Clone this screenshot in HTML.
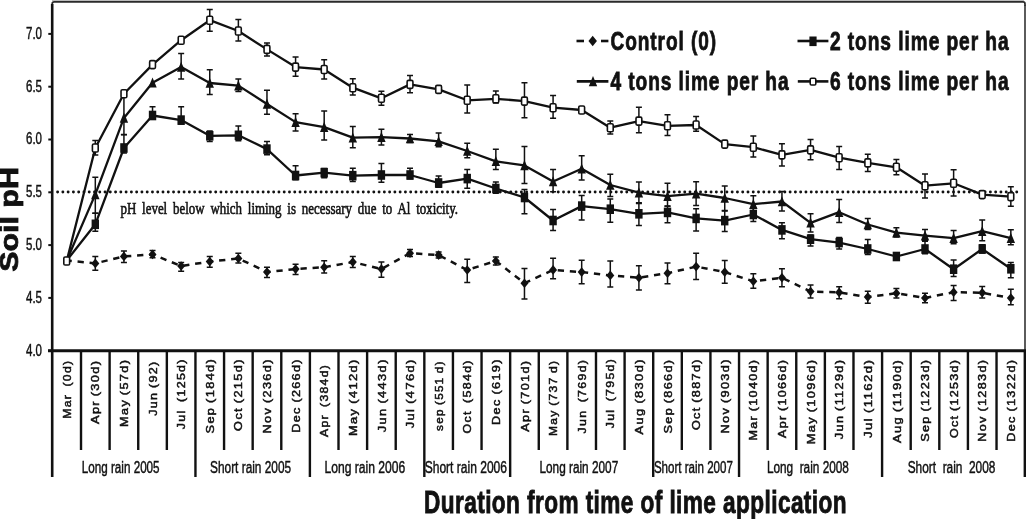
<!DOCTYPE html><html><head><meta charset="utf-8"><title>Soil pH</title><style>html,body{margin:0;padding:0;background:#fff;}svg{display:block;}text{font-family:"Liberation Sans",Arial,sans-serif;fill:#111;}.s4{stroke:#111;stroke-width:0.45px}.s5{stroke:#111;stroke-width:0.5px}.s6{stroke:#111;stroke-width:0.6px}.s8{stroke:#111;stroke-width:0.8px}.s7{stroke:#111;stroke-width:0.7px}.s9{stroke:#111;stroke-width:0.9px}</style></head><body>
<svg width="1027" height="519" viewBox="0 0 1027 519">
<rect width="1027" height="519" fill="#fff"/>
<line x1="52" y1="0.5" x2="1024" y2="0.5" stroke="#bbb" stroke-width="1"/>
<path d="M52.2 5V3.9Q52.2 1.9 54.2 1.9H1023Q1025 1.9 1025 3.9V6" fill="none" stroke="#2a2a2a" stroke-width="1.7"/>
<line x1="1025" y1="5" x2="1025" y2="350" stroke="#333" stroke-width="1.6"/>
<line x1="1024.8" y1="350" x2="1024.8" y2="477" stroke="#111" stroke-width="2.4"/>
<line x1="52.2" y1="4" x2="52.2" y2="477" stroke="#111" stroke-width="2.6"/>
<line x1="48" y1="350.7" x2="1026" y2="350.7" stroke="#111" stroke-width="3"/>
<line x1="48.3" y1="33.9" x2="52" y2="33.9" stroke="#111" stroke-width="2"/>
<line x1="48.3" y1="86.7" x2="52" y2="86.7" stroke="#111" stroke-width="2"/>
<line x1="48.3" y1="139.5" x2="52" y2="139.5" stroke="#111" stroke-width="2"/>
<line x1="48.3" y1="192.3" x2="52" y2="192.3" stroke="#111" stroke-width="2"/>
<line x1="48.3" y1="245.1" x2="52" y2="245.1" stroke="#111" stroke-width="2"/>
<line x1="48.3" y1="297.9" x2="52" y2="297.9" stroke="#111" stroke-width="2"/>
<line x1="48.3" y1="350.7" x2="52" y2="350.7" stroke="#111" stroke-width="2"/>
<text x="42" y="38.8" font-size="16" text-anchor="end" textLength="16" lengthAdjust="spacingAndGlyphs" class="s4">7.0</text>
<text x="42" y="91.6" font-size="16" text-anchor="end" textLength="16" lengthAdjust="spacingAndGlyphs" class="s4">6.5</text>
<text x="42" y="144.4" font-size="16" text-anchor="end" textLength="16" lengthAdjust="spacingAndGlyphs" class="s4">6.0</text>
<text x="42" y="197.2" font-size="16" text-anchor="end" textLength="16" lengthAdjust="spacingAndGlyphs" class="s4">5.5</text>
<text x="42" y="250" font-size="16" text-anchor="end" textLength="16" lengthAdjust="spacingAndGlyphs" class="s4">5.0</text>
<text x="42" y="302.8" font-size="16" text-anchor="end" textLength="16" lengthAdjust="spacingAndGlyphs" class="s4">4.5</text>
<text x="42" y="355.6" font-size="16" text-anchor="end" textLength="16" lengthAdjust="spacingAndGlyphs" class="s4">4.0</text>
<line x1="81.01" y1="350" x2="81.01" y2="450" stroke="#111" stroke-width="2.4"/>
<line x1="109.62" y1="350" x2="109.62" y2="450" stroke="#111" stroke-width="2.4"/>
<line x1="138.23" y1="350" x2="138.23" y2="450" stroke="#111" stroke-width="2.4"/>
<line x1="166.84" y1="350" x2="166.84" y2="450" stroke="#111" stroke-width="2.4"/>
<line x1="195.45" y1="350" x2="195.45" y2="477" stroke="#111" stroke-width="2.4"/>
<line x1="224.06" y1="350" x2="224.06" y2="450" stroke="#111" stroke-width="2.4"/>
<line x1="252.67" y1="350" x2="252.67" y2="450" stroke="#111" stroke-width="2.4"/>
<line x1="281.28" y1="350" x2="281.28" y2="450" stroke="#111" stroke-width="2.4"/>
<line x1="309.89" y1="350" x2="309.89" y2="477" stroke="#111" stroke-width="2.4"/>
<line x1="338.5" y1="350" x2="338.5" y2="450" stroke="#111" stroke-width="2.4"/>
<line x1="367.11" y1="350" x2="367.11" y2="450" stroke="#111" stroke-width="2.4"/>
<line x1="395.72" y1="350" x2="395.72" y2="450" stroke="#111" stroke-width="2.4"/>
<line x1="424.33" y1="350" x2="424.33" y2="477" stroke="#111" stroke-width="2.4"/>
<line x1="452.94" y1="350" x2="452.94" y2="450" stroke="#111" stroke-width="2.4"/>
<line x1="481.55" y1="350" x2="481.55" y2="450" stroke="#111" stroke-width="2.4"/>
<line x1="510.16" y1="350" x2="510.16" y2="477" stroke="#111" stroke-width="2.4"/>
<line x1="538.77" y1="350" x2="538.77" y2="450" stroke="#111" stroke-width="2.4"/>
<line x1="567.38" y1="350" x2="567.38" y2="450" stroke="#111" stroke-width="2.4"/>
<line x1="595.99" y1="350" x2="595.99" y2="450" stroke="#111" stroke-width="2.4"/>
<line x1="624.6" y1="350" x2="624.6" y2="450" stroke="#111" stroke-width="2.4"/>
<line x1="653.21" y1="350" x2="653.21" y2="477" stroke="#111" stroke-width="2.4"/>
<line x1="681.82" y1="350" x2="681.82" y2="450" stroke="#111" stroke-width="2.4"/>
<line x1="710.43" y1="350" x2="710.43" y2="450" stroke="#111" stroke-width="2.4"/>
<line x1="739.04" y1="350" x2="739.04" y2="477" stroke="#111" stroke-width="2.4"/>
<line x1="767.65" y1="350" x2="767.65" y2="450" stroke="#111" stroke-width="2.4"/>
<line x1="796.26" y1="350" x2="796.26" y2="450" stroke="#111" stroke-width="2.4"/>
<line x1="824.87" y1="350" x2="824.87" y2="450" stroke="#111" stroke-width="2.4"/>
<line x1="853.48" y1="350" x2="853.48" y2="450" stroke="#111" stroke-width="2.4"/>
<line x1="882.09" y1="350" x2="882.09" y2="477" stroke="#111" stroke-width="2.4"/>
<line x1="910.7" y1="350" x2="910.7" y2="450" stroke="#111" stroke-width="2.4"/>
<line x1="939.31" y1="350" x2="939.31" y2="450" stroke="#111" stroke-width="2.4"/>
<line x1="967.92" y1="350" x2="967.92" y2="450" stroke="#111" stroke-width="2.4"/>
<line x1="996.53" y1="350" x2="996.53" y2="450" stroke="#111" stroke-width="2.4"/>
<text transform="translate(70.8,418.8) rotate(-90)" font-size="11.4" letter-spacing="1.2" word-spacing="-1" class="s5" textLength="59.2" lengthAdjust="spacingAndGlyphs">Mar&#160;&#160;(0d)</text>
<text transform="translate(99.41,424) rotate(-90)" font-size="11.4" letter-spacing="1.2" word-spacing="-1" class="s5" textLength="64.4" lengthAdjust="spacingAndGlyphs">Apr (30d)</text>
<text transform="translate(128.03,427) rotate(-90)" font-size="11.4" letter-spacing="1.2" word-spacing="-1" class="s5" textLength="68.3" lengthAdjust="spacingAndGlyphs">May (57d)</text>
<text transform="translate(156.63,415.8) rotate(-90)" font-size="11.4" letter-spacing="1.2" word-spacing="-1" class="s5" textLength="55.4" lengthAdjust="spacingAndGlyphs">Jun (92)</text>
<text transform="translate(185.25,429.2) rotate(-90)" font-size="11.4" letter-spacing="1.2" word-spacing="-1" class="s5" textLength="71" lengthAdjust="spacingAndGlyphs">Jul&#160;&#160;(125d)</text>
<text transform="translate(213.85,433.5) rotate(-90)" font-size="11.4" letter-spacing="1.2" word-spacing="-1" class="s5" textLength="75.7" lengthAdjust="spacingAndGlyphs">Sep (184d)</text>
<text transform="translate(242.47,430.9) rotate(-90)" font-size="11.4" letter-spacing="1.2" word-spacing="-1" class="s5" textLength="72.7" lengthAdjust="spacingAndGlyphs">Oct (215d)</text>
<text transform="translate(271.07,433.5) rotate(-90)" font-size="11.4" letter-spacing="1.2" word-spacing="-1" class="s5" textLength="75.3" lengthAdjust="spacingAndGlyphs">Nov (236d)</text>
<text transform="translate(299.69,432.7) rotate(-90)" font-size="11.4" letter-spacing="1.2" word-spacing="-1" class="s5" textLength="74.5" lengthAdjust="spacingAndGlyphs">Dec (266d)</text>
<text transform="translate(328.3,437) rotate(-90)" font-size="11.4" letter-spacing="1.2" word-spacing="-1" class="s5" textLength="73.1" lengthAdjust="spacingAndGlyphs">Apr&#160;&#160;(384d)</text>
<text transform="translate(356.9,436.1) rotate(-90)" font-size="11.4" letter-spacing="1.2" word-spacing="-1" class="s5" textLength="77.9" lengthAdjust="spacingAndGlyphs">May (412d)</text>
<text transform="translate(385.51,432.2) rotate(-90)" font-size="11.4" letter-spacing="1.2" word-spacing="-1" class="s5" textLength="74" lengthAdjust="spacingAndGlyphs">Jun (443d)</text>
<text transform="translate(414.12,428.3) rotate(-90)" font-size="11.4" letter-spacing="1.2" word-spacing="-1" class="s5" textLength="70.1" lengthAdjust="spacingAndGlyphs">Jul (476d)</text>
<text transform="translate(442.74,430.9) rotate(-90)" font-size="11.4" letter-spacing="1.2" word-spacing="-1" class="s5" textLength="70.5" lengthAdjust="spacingAndGlyphs">sep (551 d)</text>
<text transform="translate(471.34,433.5) rotate(-90)" font-size="11.4" letter-spacing="1.2" word-spacing="-1" class="s5" textLength="74.3" lengthAdjust="spacingAndGlyphs">Oct&#160;&#160;(584d)</text>
<text transform="translate(499.95,424.9) rotate(-90)" font-size="11.4" letter-spacing="1.2" word-spacing="-1" class="s5" textLength="66.7" lengthAdjust="spacingAndGlyphs">Dec (619)</text>
<text transform="translate(528.57,431.8) rotate(-90)" font-size="11.4" letter-spacing="1.2" word-spacing="-1" class="s5" textLength="72.2" lengthAdjust="spacingAndGlyphs">Apr (701d)</text>
<text transform="translate(557.18,436.1) rotate(-90)" font-size="11.4" letter-spacing="1.2" word-spacing="-1" class="s5" textLength="76.5" lengthAdjust="spacingAndGlyphs">May (737 d)</text>
<text transform="translate(585.78,433.5) rotate(-90)" font-size="11.4" letter-spacing="1.2" word-spacing="-1" class="s5" textLength="74.8" lengthAdjust="spacingAndGlyphs">Jun&#160;&#160;(769d)</text>
<text transform="translate(614.39,428.3) rotate(-90)" font-size="11.4" letter-spacing="1.2" word-spacing="-1" class="s5" textLength="70.5" lengthAdjust="spacingAndGlyphs">Jul&#160;&#160;(795d)</text>
<text transform="translate(643,434.4) rotate(-90)" font-size="11.4" letter-spacing="1.2" word-spacing="-1" class="s5" textLength="76.2" lengthAdjust="spacingAndGlyphs">Aug (830d)</text>
<text transform="translate(671.62,433.5) rotate(-90)" font-size="11.4" letter-spacing="1.2" word-spacing="-1" class="s5" textLength="74.8" lengthAdjust="spacingAndGlyphs">Sep (866d)</text>
<text transform="translate(700.23,430.1) rotate(-90)" font-size="11.4" letter-spacing="1.2" word-spacing="-1" class="s5" textLength="71.9" lengthAdjust="spacingAndGlyphs">Oct (887d)</text>
<text transform="translate(728.84,433.5) rotate(-90)" font-size="11.4" letter-spacing="1.2" word-spacing="-1" class="s5" textLength="75.3" lengthAdjust="spacingAndGlyphs">Nov (903d)</text>
<text transform="translate(757.44,440.5) rotate(-90)" font-size="11.4" letter-spacing="1.2" word-spacing="-1" class="s5" textLength="81.8" lengthAdjust="spacingAndGlyphs">Mar (1040d)</text>
<text transform="translate(786.05,438) rotate(-90)" font-size="11.4" letter-spacing="1.2" word-spacing="-1" class="s5" textLength="79.3" lengthAdjust="spacingAndGlyphs">Apr (1066d)</text>
<text transform="translate(814.66,444.3) rotate(-90)" font-size="11.4" letter-spacing="1.2" word-spacing="-1" class="s5" textLength="85.6" lengthAdjust="spacingAndGlyphs">May (1096d)</text>
<text transform="translate(843.27,439.2) rotate(-90)" font-size="11.4" letter-spacing="1.2" word-spacing="-1" class="s5" textLength="80.5" lengthAdjust="spacingAndGlyphs">Jun (1129d)</text>
<text transform="translate(871.88,438) rotate(-90)" font-size="11.4" letter-spacing="1.2" word-spacing="-1" class="s5" textLength="79.3" lengthAdjust="spacingAndGlyphs">Jul (1162d)</text>
<text transform="translate(900.5,443) rotate(-90)" font-size="11.4" letter-spacing="1.2" word-spacing="-1" class="s5" textLength="84.3" lengthAdjust="spacingAndGlyphs">Aug (1190d)</text>
<text transform="translate(929.11,441.8) rotate(-90)" font-size="11.4" letter-spacing="1.2" word-spacing="-1" class="s5" textLength="83.1" lengthAdjust="spacingAndGlyphs">Sep (1223d)</text>
<text transform="translate(957.72,438) rotate(-90)" font-size="11.4" letter-spacing="1.2" word-spacing="-1" class="s5" textLength="79.3" lengthAdjust="spacingAndGlyphs">Oct (1253d)</text>
<text transform="translate(986.32,441.8) rotate(-90)" font-size="11.4" letter-spacing="1.2" word-spacing="-1" class="s5" textLength="83.1" lengthAdjust="spacingAndGlyphs">Nov (1283d)</text>
<text transform="translate(1014.93,441.8) rotate(-90)" font-size="11.4" letter-spacing="1.2" word-spacing="-1" class="s5" textLength="83.1" lengthAdjust="spacingAndGlyphs">Dec (1322d)</text>
<text x="81.8" y="472.8" font-size="16" class="s4" textLength="77.8" lengthAdjust="spacingAndGlyphs" xml:space="preserve">Long rain 2005</text>
<text x="210.1" y="472.8" font-size="16" class="s4" textLength="81" lengthAdjust="spacingAndGlyphs" xml:space="preserve">Short rain 2005</text>
<text x="324.5" y="472.8" font-size="16" class="s4" textLength="80.7" lengthAdjust="spacingAndGlyphs" xml:space="preserve">Long rain 2006</text>
<text x="424.7" y="472.8" font-size="16" class="s4" textLength="82.3" lengthAdjust="spacingAndGlyphs" xml:space="preserve">Short rain 2006</text>
<text x="539.5" y="472.8" font-size="16" class="s4" textLength="78.7" lengthAdjust="spacingAndGlyphs" xml:space="preserve">Long rain 2007</text>
<text x="653.9" y="472.8" font-size="16" class="s4" textLength="79" lengthAdjust="spacingAndGlyphs" xml:space="preserve">Short rain 2007</text>
<text x="766.9" y="472.8" font-size="16" class="s4" textLength="82" lengthAdjust="spacingAndGlyphs" xml:space="preserve">Long  rain 2008</text>
<text x="907.7" y="472.8" font-size="16" class="s4" textLength="87.7" lengthAdjust="spacingAndGlyphs" xml:space="preserve">Short  rain  2008</text>
<text x="424" y="513.2" font-size="31" font-weight="bold" class="s9" letter-spacing="0.6" textLength="423" lengthAdjust="spacingAndGlyphs">Duration from time of lime application</text>
<text transform="translate(18.3,271.8) rotate(-90)" font-size="25.5" font-weight="bold" class="s8" textLength="104.7" lengthAdjust="spacingAndGlyphs">Soil pH</text>
<line x1="57.6" y1="192" x2="1020" y2="192" stroke="#111" stroke-width="2.9" stroke-linecap="round" stroke-dasharray="0.01 5.26"/>
<text x="120.5" y="214.3" font-size="17.5" word-spacing="3.5" class="s6" style="font-family:'Liberation Serif',serif" textLength="337.5" lengthAdjust="spacingAndGlyphs">pH level below which liming is necessary due to Al toxicity.</text>
<path d="M95.31 256.4V270.3M92.31 256.4H98.31M92.31 270.3H98.31M123.93 250.9V262.5M120.93 250.9H126.93M120.93 262.5H126.93M152.53 250.4V257.8M149.53 250.4H155.53M149.53 257.8H155.53M181.15 262.5V271.2M178.15 262.5H184.15M178.15 271.2H184.15M209.75 256.4V267.2M206.75 256.4H212.75M206.75 267.2H212.75M238.37 253.3V263M235.37 253.3H241.37M235.37 263H241.37M266.97 267.2V277.6M263.97 267.2H269.97M263.97 277.6H269.97M295.58 264.2V274.6M292.58 264.2H298.58M292.58 274.6H298.58M324.19 260.8V272.9M321.19 260.8H327.19M321.19 272.9H327.19M352.8 256.5V267.6M349.8 256.5H355.8M349.8 267.6H355.8M381.41 262.1V277.3M378.41 262.1H384.41M378.41 277.3H384.41M410.02 249.6V256.5M407.02 249.6H413.02M407.02 256.5H413.02M438.63 252V258M435.63 252H441.63M435.63 258H441.63M467.24 259.3V282.4M464.24 259.3H470.24M464.24 282.4H470.24M495.85 257V265M492.85 257H498.85M492.85 265H498.85M524.47 268.5V299M521.47 268.5H527.47M521.47 299H527.47M553.08 258.2V278.8M550.08 258.2H556.08M550.08 278.8H556.08M581.68 260.2V283.8M578.68 260.2H584.68M578.68 283.8H584.68M610.29 261V287.1M607.29 261H613.29M607.29 287.1H613.29M638.9 265.7V289.9M635.9 265.7H641.9M635.9 289.9H641.9M667.51 263V283.8M664.51 263H670.51M664.51 283.8H670.51M696.12 253.2V279.6M693.12 253.2H699.12M693.12 279.6H699.12M724.74 260.6V283.2M721.74 260.6H727.74M721.74 283.2H727.74M753.34 273.8V288.2M750.34 273.8H756.34M750.34 288.2H756.34M781.95 268.8V286.8M778.95 268.8H784.95M778.95 286.8H784.95M810.56 284.9V297.9M807.56 284.9H813.56M807.56 297.9H813.56M839.17 286.8V298.8M836.17 286.8H842.17M836.17 298.8H842.17M867.78 291.3V303.2M864.78 291.3H870.78M864.78 303.2H870.78M896.39 288.4V298M893.39 288.4H899.39M893.39 298H899.39M925 293.2V302.8M922 293.2H928M922 302.8H928M953.62 285.5V300.5M950.62 285.5H956.62M950.62 300.5H956.62M982.22 286.4V298M979.22 286.4H985.22M979.22 298H985.22M1010.83 289.3V304.7M1007.83 289.3H1013.83M1007.83 304.7H1013.83" stroke="#111" stroke-width="1.5" fill="none"/>
<polyline points="66.7,260.5 95.31,263.4 123.93,256.4 152.53,254.4 181.15,266 209.75,261.6 238.37,258.5 266.97,272 295.58,269.1 324.19,267.2 352.8,262.1 381.41,269 410.02,253.2 438.63,255.1 467.24,270 495.85,261 524.47,283.2 553.08,269.9 581.68,272.1 610.29,275.4 638.9,277.7 667.51,273.2 696.12,266.6 724.74,272.1 753.34,281.3 781.95,277.7 810.56,291.5 839.17,292.4 867.78,297 896.39,293.2 925,298 953.62,292.2 982.22,292.8 1010.83,298" fill="none" stroke="#111" stroke-width="2.5" stroke-linejoin="round" stroke-dasharray="6.3 5.8" stroke-dashoffset="1.2"/>
<path d="M95.31 258.6L99.31 263.4L95.31 268.2L91.31 263.4Z" fill="#111"/>
<path d="M123.93 251.6L127.93 256.4L123.93 261.2L119.93 256.4Z" fill="#111"/>
<path d="M152.53 249.6L156.53 254.4L152.53 259.2L148.53 254.4Z" fill="#111"/>
<path d="M181.15 261.2L185.15 266L181.15 270.8L177.15 266Z" fill="#111"/>
<path d="M209.75 256.8L213.75 261.6L209.75 266.4L205.75 261.6Z" fill="#111"/>
<path d="M238.37 253.7L242.37 258.5L238.37 263.3L234.37 258.5Z" fill="#111"/>
<path d="M266.97 267.2L270.97 272L266.97 276.8L262.97 272Z" fill="#111"/>
<path d="M295.58 264.3L299.58 269.1L295.58 273.9L291.58 269.1Z" fill="#111"/>
<path d="M324.19 262.4L328.19 267.2L324.19 272L320.19 267.2Z" fill="#111"/>
<path d="M352.8 257.3L356.8 262.1L352.8 266.9L348.8 262.1Z" fill="#111"/>
<path d="M381.41 264.2L385.41 269L381.41 273.8L377.41 269Z" fill="#111"/>
<path d="M410.02 248.4L414.02 253.2L410.02 258L406.02 253.2Z" fill="#111"/>
<path d="M438.63 250.3L442.63 255.1L438.63 259.9L434.63 255.1Z" fill="#111"/>
<path d="M467.24 265.2L471.24 270L467.24 274.8L463.24 270Z" fill="#111"/>
<path d="M495.85 256.2L499.85 261L495.85 265.8L491.85 261Z" fill="#111"/>
<path d="M524.47 278.4L528.47 283.2L524.47 288L520.47 283.2Z" fill="#111"/>
<path d="M553.08 265.1L557.08 269.9L553.08 274.7L549.08 269.9Z" fill="#111"/>
<path d="M581.68 267.3L585.68 272.1L581.68 276.9L577.68 272.1Z" fill="#111"/>
<path d="M610.29 270.6L614.29 275.4L610.29 280.2L606.29 275.4Z" fill="#111"/>
<path d="M638.9 272.9L642.9 277.7L638.9 282.5L634.9 277.7Z" fill="#111"/>
<path d="M667.51 268.4L671.51 273.2L667.51 278L663.51 273.2Z" fill="#111"/>
<path d="M696.12 261.8L700.12 266.6L696.12 271.4L692.12 266.6Z" fill="#111"/>
<path d="M724.74 267.3L728.74 272.1L724.74 276.9L720.74 272.1Z" fill="#111"/>
<path d="M753.34 276.5L757.34 281.3L753.34 286.1L749.34 281.3Z" fill="#111"/>
<path d="M781.95 272.9L785.95 277.7L781.95 282.5L777.95 277.7Z" fill="#111"/>
<path d="M810.56 286.7L814.56 291.5L810.56 296.3L806.56 291.5Z" fill="#111"/>
<path d="M839.17 287.6L843.17 292.4L839.17 297.2L835.17 292.4Z" fill="#111"/>
<path d="M867.78 292.2L871.78 297L867.78 301.8L863.78 297Z" fill="#111"/>
<path d="M896.39 288.4L900.39 293.2L896.39 298L892.39 293.2Z" fill="#111"/>
<path d="M925 293.2L929 298L925 302.8L921 298Z" fill="#111"/>
<path d="M953.62 287.4L957.62 292.2L953.62 297L949.62 292.2Z" fill="#111"/>
<path d="M982.22 288L986.22 292.8L982.22 297.6L978.22 292.8Z" fill="#111"/>
<path d="M1010.83 293.2L1014.83 298L1010.83 302.8L1006.83 298Z" fill="#111"/>
<path d="M95.31 213.2V231.3M92.31 213.2H98.31M92.31 231.3H98.31M123.93 134.8V153M120.93 134.8H126.93M120.93 153H126.93M152.53 106.8V119M149.53 106.8H155.53M149.53 119H155.53M181.15 106.8V124M178.15 106.8H184.15M178.15 124H184.15M209.75 131.1V141.6M206.75 131.1H212.75M206.75 141.6H212.75M238.37 126.1V140.8M235.37 126.1H241.37M235.37 140.8H241.37M266.97 141.6V154.7M263.97 141.6H269.97M263.97 154.7H269.97M295.58 165.8V179.7M292.58 165.8H298.58M292.58 179.7H298.58M324.19 168.6V177.7M321.19 168.6H327.19M321.19 177.7H327.19M352.8 168.3V181.6M349.8 168.3H355.8M349.8 181.6H355.8M381.41 163.6V182.2M378.41 163.6H384.41M378.41 182.2H384.41M410.02 168.3V178.8M407.02 168.3H413.02M407.02 178.8H413.02M438.63 176V187.2M435.63 176H441.63M435.63 187.2H441.63M467.24 169.6V188.2M464.24 169.6H470.24M464.24 188.2H470.24M495.85 182.1V193.2M492.85 182.1H498.85M492.85 193.2H498.85M524.47 189.4V213.8M521.47 189.4H527.47M521.47 213.8H527.47M553.08 209.4V230.5M550.08 209.4H556.08M550.08 230.5H556.08M581.68 195.5V220M578.68 195.5H584.68M578.68 220H584.68M610.29 199.1V222.2M607.29 199.1H613.29M607.29 222.2H613.29M638.9 202.7V225.5M635.9 202.7H641.9M635.9 225.5H641.9M667.51 206V222.7M664.51 206H670.51M664.51 222.7H670.51M696.12 208.8V231M693.12 208.8H699.12M693.12 231H699.12M724.74 211V231.6M721.74 211H727.74M721.74 231.6H727.74M753.34 207.7V221.6M750.34 207.7H756.34M750.34 221.6H756.34M781.95 222.8V238.8M778.95 222.8H784.95M778.95 238.8H784.95M810.56 234.9V246M807.56 234.9H813.56M807.56 246H813.56M839.17 237.5V249M836.17 237.5H842.17M836.17 249H842.17M867.78 239.5V254.6M864.78 239.5H870.78M864.78 254.6H870.78M896.39 253V260M893.39 253H899.39M893.39 260H899.39M925 240.8V253.7M922 240.8H928M922 253.7H928M953.62 260V276.6M950.62 260H956.62M950.62 276.6H956.62M982.22 244.7V253M979.22 244.7H985.22M979.22 253H985.22M1010.83 262.4V277.8M1007.83 262.4H1013.83M1007.83 277.8H1013.83" stroke="#111" stroke-width="1.5" fill="none"/>
<polyline points="66.7,260.5 95.31,224.3 123.93,148 152.53,115.5 181.15,120.1 209.75,135.8 238.37,135.3 266.97,149.1 295.58,175.5 324.19,172.7 352.8,175.7 381.41,175 410.02,175 438.63,183 467.24,178.6 495.85,188.5 524.47,197.5 553.08,220.5 581.68,206.1 610.29,209.2 638.9,213.8 667.51,212.4 696.12,218.4 724.74,220.6 753.34,214.5 781.95,229.9 810.56,239.2 839.17,242.6 867.78,249 896.39,256.5 925,249 953.62,269.2 982.22,249 1010.83,268.8" fill="none" stroke="#111" stroke-width="2.3" stroke-linejoin="round"/>
<rect x="91.61" y="219.5" width="7.4" height="9.6" fill="#111"/>
<rect x="120.23" y="143.2" width="7.4" height="9.6" fill="#111"/>
<rect x="148.84" y="110.7" width="7.4" height="9.6" fill="#111"/>
<rect x="177.45" y="115.3" width="7.4" height="9.6" fill="#111"/>
<rect x="206.06" y="131" width="7.4" height="9.6" fill="#111"/>
<rect x="234.67" y="130.5" width="7.4" height="9.6" fill="#111"/>
<rect x="263.27" y="144.3" width="7.4" height="9.6" fill="#111"/>
<rect x="291.88" y="170.7" width="7.4" height="9.6" fill="#111"/>
<rect x="320.5" y="167.9" width="7.4" height="9.6" fill="#111"/>
<rect x="349.1" y="170.9" width="7.4" height="9.6" fill="#111"/>
<rect x="377.71" y="170.2" width="7.4" height="9.6" fill="#111"/>
<rect x="406.32" y="170.2" width="7.4" height="9.6" fill="#111"/>
<rect x="434.94" y="178.2" width="7.4" height="9.6" fill="#111"/>
<rect x="463.54" y="173.8" width="7.4" height="9.6" fill="#111"/>
<rect x="492.15" y="183.7" width="7.4" height="9.6" fill="#111"/>
<rect x="520.76" y="192.7" width="7.4" height="9.6" fill="#111"/>
<rect x="549.38" y="215.7" width="7.4" height="9.6" fill="#111"/>
<rect x="577.98" y="201.3" width="7.4" height="9.6" fill="#111"/>
<rect x="606.59" y="204.4" width="7.4" height="9.6" fill="#111"/>
<rect x="635.2" y="209" width="7.4" height="9.6" fill="#111"/>
<rect x="663.81" y="207.6" width="7.4" height="9.6" fill="#111"/>
<rect x="692.42" y="213.6" width="7.4" height="9.6" fill="#111"/>
<rect x="721.03" y="215.8" width="7.4" height="9.6" fill="#111"/>
<rect x="749.64" y="209.7" width="7.4" height="9.6" fill="#111"/>
<rect x="778.25" y="225.1" width="7.4" height="9.6" fill="#111"/>
<rect x="806.86" y="234.4" width="7.4" height="9.6" fill="#111"/>
<rect x="835.47" y="237.8" width="7.4" height="9.6" fill="#111"/>
<rect x="864.08" y="244.2" width="7.4" height="9.6" fill="#111"/>
<rect x="892.69" y="251.7" width="7.4" height="9.6" fill="#111"/>
<rect x="921.3" y="244.2" width="7.4" height="9.6" fill="#111"/>
<rect x="949.91" y="264.4" width="7.4" height="9.6" fill="#111"/>
<rect x="978.52" y="244.2" width="7.4" height="9.6" fill="#111"/>
<rect x="1007.13" y="264" width="7.4" height="9.6" fill="#111"/>
<path d="M95.31 177.2V213.2M92.31 177.2H98.31M92.31 213.2H98.31M123.93 96.2V134.6M120.93 96.2H126.93M120.93 134.6H126.93M181.15 53.5V79M178.15 53.5H184.15M178.15 79H184.15M209.75 69.8V94.4M206.75 69.8H212.75M206.75 94.4H212.75M238.37 79V91.6M235.37 79H241.37M235.37 91.6H241.37M266.97 90.2V114.3M263.97 90.2H269.97M263.97 114.3H269.97M295.58 113.8V131M292.58 113.8H298.58M292.58 131H298.58M324.19 111V140.1M321.19 111H327.19M321.19 140.1H327.19M352.8 126.6V147.7M349.8 126.6H355.8M349.8 147.7H355.8M381.41 129.3V144.9M378.41 129.3H384.41M378.41 144.9H384.41M410.02 134.5V142.5M407.02 134.5H413.02M407.02 142.5H413.02M438.63 133V146.8M435.63 133H441.63M435.63 146.8H441.63M467.24 143.2V157.7M464.24 143.2H470.24M464.24 157.7H470.24M495.85 149.3V169.6M492.85 149.3H498.85M492.85 169.6H498.85M524.47 146.6V183.5M521.47 146.6H527.47M521.47 183.5H527.47M553.08 169.6V191.8M550.08 169.6H556.08M550.08 191.8H556.08M581.68 155.7V179.9M578.68 155.7H584.68M578.68 179.9H584.68M610.29 174.3V196.5M607.29 174.3H613.29M607.29 196.5H613.29M638.9 182V203.5M635.9 182H641.9M635.9 203.5H641.9M667.51 183.2V206.2M664.51 183.2H670.51M664.51 206.2H670.51M696.12 181.7V205.5M693.12 181.7H699.12M693.12 205.5H699.12M724.74 186V210.4M721.74 186H727.74M721.74 210.4H727.74M753.34 195.7V212.4M750.34 195.7H756.34M750.34 212.4H756.34M781.95 191.6V211M778.95 191.6H784.95M778.95 211H784.95M810.56 213.8V232M807.56 213.8H813.56M807.56 232H813.56M839.17 199.6V222.6M836.17 199.6H842.17M836.17 222.6H842.17M867.78 218.5V229.4M864.78 218.5H870.78M864.78 229.4H870.78M896.39 227.7V237M893.39 227.7H899.39M893.39 237H899.39M925 229.6V241.2M922 229.6H928M922 241.2H928M953.62 230.5V243.8M950.62 230.5H956.62M950.62 243.8H956.62M982.22 220V240.8M979.22 220H985.22M979.22 240.8H985.22M1010.83 229.8V244.7M1007.83 229.8H1013.83M1007.83 244.7H1013.83" stroke="#111" stroke-width="1.5" fill="none"/>
<polyline points="66.7,260.5 95.31,194.4 123.93,117.9 152.53,82.7 181.15,67 209.75,83 238.37,85.6 266.97,104 295.58,122.1 324.19,127.1 352.8,137.7 381.41,137.1 410.02,138.5 438.63,141.3 467.24,151 495.85,161.3 524.47,165.4 553.08,181.5 581.68,168.8 610.29,185 638.9,192.6 667.51,196.2 696.12,193.7 724.74,198 753.34,204.2 781.95,201.5 810.56,222.8 839.17,212.2 867.78,224.5 896.39,232.6 925,235.6 953.62,238.1 982.22,231.2 1010.83,238.1" fill="none" stroke="#111" stroke-width="2.3" stroke-linejoin="round"/>
<path d="M95.31 189.1L99.52 199.2L91.11 199.2Z" fill="#111"/>
<path d="M123.93 112.6L128.12 122.7L119.73 122.7Z" fill="#111"/>
<path d="M152.53 77.4L156.73 87.5L148.34 87.5Z" fill="#111"/>
<path d="M181.15 61.7L185.34 71.8L176.95 71.8Z" fill="#111"/>
<path d="M209.75 77.7L213.95 87.8L205.56 87.8Z" fill="#111"/>
<path d="M238.37 80.3L242.56 90.4L234.17 90.4Z" fill="#111"/>
<path d="M266.97 98.7L271.17 108.8L262.77 108.8Z" fill="#111"/>
<path d="M295.58 116.8L299.78 126.9L291.38 126.9Z" fill="#111"/>
<path d="M324.19 121.8L328.39 131.9L320 131.9Z" fill="#111"/>
<path d="M352.8 132.4L357 142.5L348.6 142.5Z" fill="#111"/>
<path d="M381.41 131.8L385.61 141.9L377.21 141.9Z" fill="#111"/>
<path d="M410.02 133.2L414.22 143.3L405.82 143.3Z" fill="#111"/>
<path d="M438.63 136L442.83 146.1L434.44 146.1Z" fill="#111"/>
<path d="M467.24 145.7L471.44 155.8L463.04 155.8Z" fill="#111"/>
<path d="M495.85 156L500.05 166.1L491.65 166.1Z" fill="#111"/>
<path d="M524.47 160.1L528.67 170.2L520.26 170.2Z" fill="#111"/>
<path d="M553.08 176.2L557.28 186.3L548.88 186.3Z" fill="#111"/>
<path d="M581.68 163.5L585.88 173.6L577.48 173.6Z" fill="#111"/>
<path d="M610.29 179.7L614.5 189.8L606.09 189.8Z" fill="#111"/>
<path d="M638.9 187.3L643.11 197.4L634.7 197.4Z" fill="#111"/>
<path d="M667.51 190.9L671.72 201L663.31 201Z" fill="#111"/>
<path d="M696.12 188.4L700.33 198.5L691.92 198.5Z" fill="#111"/>
<path d="M724.74 192.7L728.94 202.8L720.53 202.8Z" fill="#111"/>
<path d="M753.34 198.9L757.54 209L749.14 209Z" fill="#111"/>
<path d="M781.95 196.2L786.15 206.3L777.75 206.3Z" fill="#111"/>
<path d="M810.56 217.5L814.76 227.6L806.36 227.6Z" fill="#111"/>
<path d="M839.17 206.9L843.38 217L834.97 217Z" fill="#111"/>
<path d="M867.78 219.2L871.99 229.3L863.58 229.3Z" fill="#111"/>
<path d="M896.39 227.3L900.6 237.4L892.19 237.4Z" fill="#111"/>
<path d="M925 230.3L929.21 240.4L920.8 240.4Z" fill="#111"/>
<path d="M953.62 232.8L957.82 242.9L949.41 242.9Z" fill="#111"/>
<path d="M982.22 225.9L986.42 236L978.02 236Z" fill="#111"/>
<path d="M1010.83 232.8L1015.03 242.9L1006.63 242.9Z" fill="#111"/>
<path d="M95.31 140.5V155M92.31 140.5H98.31M92.31 155H98.31M209.75 9.5V31.2M206.75 9.5H212.75M206.75 31.2H212.75M238.37 19.5V41M235.37 19.5H241.37M235.37 41H241.37M266.97 43V56M263.97 43H269.97M263.97 56H269.97M295.58 56.9V76.3M292.58 56.9H298.58M292.58 76.3H298.58M324.19 59.7V79.1M321.19 59.7H327.19M321.19 79.1H327.19M352.8 78.8V94.9M349.8 78.8H355.8M349.8 94.9H355.8M381.41 91.3V105.2M378.41 91.3H384.41M378.41 105.2H384.41M410.02 75.5V92.7M407.02 75.5H413.02M407.02 92.7H413.02M438.63 86.5V92.5M435.63 86.5H441.63M435.63 92.5H441.63M467.24 85V113M464.24 85H470.24M464.24 113H470.24M495.85 91.1V103M492.85 91.1H498.85M492.85 103H498.85M524.47 82.8V117.7M521.47 82.8H527.47M521.47 117.7H527.47M553.08 95.5V118.3M550.08 95.5H556.08M550.08 118.3H556.08M581.68 107V113M578.68 107H584.68M578.68 113H584.68M610.29 121.1V134.1M607.29 121.1H613.29M607.29 134.1H613.29M638.9 107.2V132.7M635.9 107.2H641.9M635.9 132.7H641.9M667.51 114.7V135.5M664.51 114.7H670.51M664.51 135.5H670.51M696.12 116.6V131.3M693.12 116.6H699.12M693.12 131.3H699.12M753.34 136.1V156.9M750.34 136.1H756.34M750.34 156.9H756.34M781.95 143.8V166M778.95 143.8H784.95M778.95 166H784.95M810.56 139.4V159.7M807.56 139.4H813.56M807.56 159.7H813.56M839.17 146.6V169.4M836.17 146.6H842.17M836.17 169.4H842.17M867.78 154.3V171.4M864.78 154.3H870.78M864.78 171.4H870.78M896.39 159.5V174.8M893.39 159.5H899.39M893.39 174.8H899.39M925 174.1V198M922 174.1H928M922 198H928M953.62 169.7V196M950.62 169.7H956.62M950.62 196H956.62M1010.83 186.7V206.3M1007.83 186.7H1013.83M1007.83 206.3H1013.83" stroke="#111" stroke-width="1.5" fill="none"/>
<polyline points="66.7,261 95.31,148 123.93,93.8 152.53,64.6 181.15,40.2 209.75,20.2 238.37,31 266.97,49.4 295.58,67.1 324.19,69.5 352.8,87.7 381.41,98.3 410.02,84.4 438.63,89.4 467.24,100.3 495.85,98.8 524.47,101.1 553.08,107.7 581.68,110 610.29,127.7 638.9,121.1 667.51,125.8 696.12,125 724.74,144.1 753.34,147.2 781.95,154.9 810.56,149.9 839.17,157.7 867.78,162.9 896.39,167.3 925,185.7 953.62,183.3 982.22,194.6 1010.83,196.6" fill="none" stroke="#111" stroke-width="2.3" stroke-linejoin="round"/>
<rect x="63.8" y="257" width="5.8" height="8" rx="1.3" fill="#fff" stroke="#111" stroke-width="1.6"/>
<rect x="92.41" y="144" width="5.8" height="8" rx="1.3" fill="#fff" stroke="#111" stroke-width="1.6"/>
<rect x="121.03" y="89.8" width="5.8" height="8" rx="1.3" fill="#fff" stroke="#111" stroke-width="1.6"/>
<rect x="149.64" y="60.6" width="5.8" height="8" rx="1.3" fill="#fff" stroke="#111" stroke-width="1.6"/>
<rect x="178.25" y="36.2" width="5.8" height="8" rx="1.3" fill="#fff" stroke="#111" stroke-width="1.6"/>
<rect x="206.86" y="16.2" width="5.8" height="8" rx="1.3" fill="#fff" stroke="#111" stroke-width="1.6"/>
<rect x="235.47" y="27" width="5.8" height="8" rx="1.3" fill="#fff" stroke="#111" stroke-width="1.6"/>
<rect x="264.07" y="45.4" width="5.8" height="8" rx="1.3" fill="#fff" stroke="#111" stroke-width="1.6"/>
<rect x="292.69" y="63.1" width="5.8" height="8" rx="1.3" fill="#fff" stroke="#111" stroke-width="1.6"/>
<rect x="321.3" y="65.5" width="5.8" height="8" rx="1.3" fill="#fff" stroke="#111" stroke-width="1.6"/>
<rect x="349.9" y="83.7" width="5.8" height="8" rx="1.3" fill="#fff" stroke="#111" stroke-width="1.6"/>
<rect x="378.51" y="94.3" width="5.8" height="8" rx="1.3" fill="#fff" stroke="#111" stroke-width="1.6"/>
<rect x="407.12" y="80.4" width="5.8" height="8" rx="1.3" fill="#fff" stroke="#111" stroke-width="1.6"/>
<rect x="435.74" y="85.4" width="5.8" height="8" rx="1.3" fill="#fff" stroke="#111" stroke-width="1.6"/>
<rect x="464.34" y="96.3" width="5.8" height="8" rx="1.3" fill="#fff" stroke="#111" stroke-width="1.6"/>
<rect x="492.95" y="94.8" width="5.8" height="8" rx="1.3" fill="#fff" stroke="#111" stroke-width="1.6"/>
<rect x="521.56" y="97.1" width="5.8" height="8" rx="1.3" fill="#fff" stroke="#111" stroke-width="1.6"/>
<rect x="550.17" y="103.7" width="5.8" height="8" rx="1.3" fill="#fff" stroke="#111" stroke-width="1.6"/>
<rect x="578.78" y="106" width="5.8" height="8" rx="1.3" fill="#fff" stroke="#111" stroke-width="1.6"/>
<rect x="607.39" y="123.7" width="5.8" height="8" rx="1.3" fill="#fff" stroke="#111" stroke-width="1.6"/>
<rect x="636" y="117.1" width="5.8" height="8" rx="1.3" fill="#fff" stroke="#111" stroke-width="1.6"/>
<rect x="664.61" y="121.8" width="5.8" height="8" rx="1.3" fill="#fff" stroke="#111" stroke-width="1.6"/>
<rect x="693.22" y="121" width="5.8" height="8" rx="1.3" fill="#fff" stroke="#111" stroke-width="1.6"/>
<rect x="721.83" y="140.1" width="5.8" height="8" rx="1.3" fill="#fff" stroke="#111" stroke-width="1.6"/>
<rect x="750.44" y="143.2" width="5.8" height="8" rx="1.3" fill="#fff" stroke="#111" stroke-width="1.6"/>
<rect x="779.05" y="150.9" width="5.8" height="8" rx="1.3" fill="#fff" stroke="#111" stroke-width="1.6"/>
<rect x="807.66" y="145.9" width="5.8" height="8" rx="1.3" fill="#fff" stroke="#111" stroke-width="1.6"/>
<rect x="836.27" y="153.7" width="5.8" height="8" rx="1.3" fill="#fff" stroke="#111" stroke-width="1.6"/>
<rect x="864.88" y="158.9" width="5.8" height="8" rx="1.3" fill="#fff" stroke="#111" stroke-width="1.6"/>
<rect x="893.49" y="163.3" width="5.8" height="8" rx="1.3" fill="#fff" stroke="#111" stroke-width="1.6"/>
<rect x="922.1" y="181.7" width="5.8" height="8" rx="1.3" fill="#fff" stroke="#111" stroke-width="1.6"/>
<rect x="950.71" y="179.3" width="5.8" height="8" rx="1.3" fill="#fff" stroke="#111" stroke-width="1.6"/>
<rect x="979.32" y="190.6" width="5.8" height="8" rx="1.3" fill="#fff" stroke="#111" stroke-width="1.6"/>
<rect x="1007.93" y="192.6" width="5.8" height="8" rx="1.3" fill="#fff" stroke="#111" stroke-width="1.6"/>
<line x1="576.5" y1="41" x2="584" y2="41" stroke="#111" stroke-width="2.6"/><line x1="601" y1="41" x2="608.4" y2="41" stroke="#111" stroke-width="2.6"/>
<path d="M592.7 35.75L596.95 41L592.7 46.25L588.45 41Z" fill="#111"/>
<line x1="576.8" y1="81.4" x2="608.4" y2="81.4" stroke="#111" stroke-width="2.6"/>
<path d="M593 76.1L597.2 86.2L588.8 86.2Z" fill="#111"/>
<line x1="797.5" y1="41" x2="828.4" y2="41" stroke="#111" stroke-width="2.6"/>
<rect x="809.4" y="36.5" width="7.2" height="9.6" fill="#111"/>
<line x1="797.8" y1="81.4" x2="828.4" y2="81.4" stroke="#111" stroke-width="2.6"/>
<rect x="810.2" y="78.2" width="5.6" height="6.8" rx="1.3" fill="#fff" stroke="#111" stroke-width="1.6"/>
<text x="610.5" y="49.9" font-size="25" font-weight="bold" class="s8" letter-spacing="1.2" textLength="106.5" lengthAdjust="spacingAndGlyphs">Control (0)</text>
<text x="610.5" y="89.6" font-size="25" font-weight="bold" class="s8" letter-spacing="1.2" textLength="179" lengthAdjust="spacingAndGlyphs">4 tons lime per ha</text>
<text x="830" y="49.9" font-size="25" font-weight="bold" class="s8" letter-spacing="1.2" textLength="179.5" lengthAdjust="spacingAndGlyphs">2 tons lime per ha</text>
<text x="830" y="89.6" font-size="25" font-weight="bold" class="s8" letter-spacing="1.2" textLength="179.5" lengthAdjust="spacingAndGlyphs">6 tons lime per ha</text>
</svg></body></html>
